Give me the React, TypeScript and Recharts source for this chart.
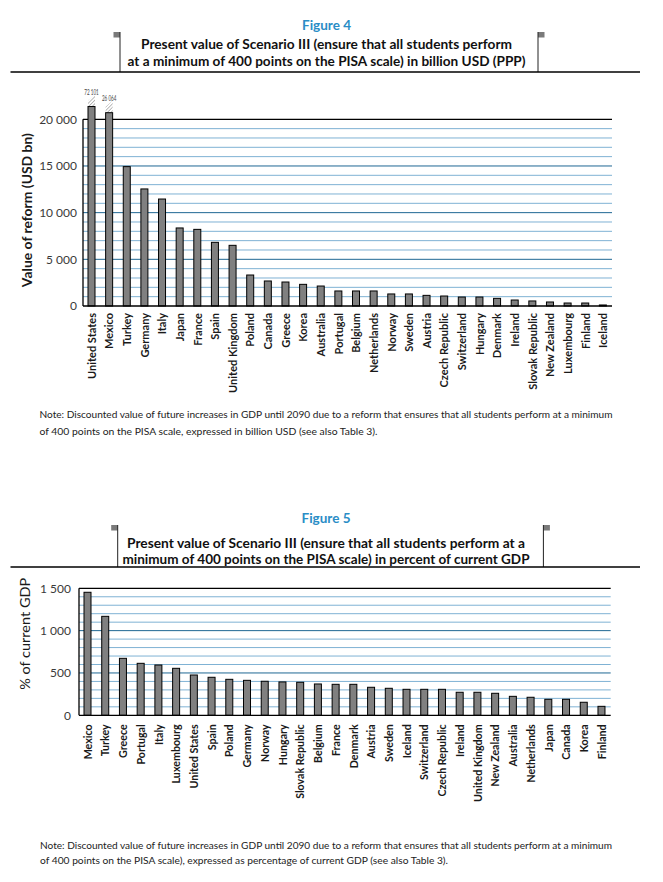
import React from 'react';
import { BarChart, Bar, XAxis, YAxis, ReferenceLine } from 'recharts';

// ---------- Figure 4 data (billion USD, PPP) ----------
const fig4Countries = [
  'United States', 'Mexico', 'Turkey', 'Germany', 'Italy', 'Japan', 'France', 'Spain',
  'United Kingdom', 'Poland', 'Canada', 'Greece', 'Korea', 'Australia', 'Portugal', 'Belgium',
  'Netherlands', 'Norway', 'Sweden', 'Austria', 'Czech Republic', 'Switzerland', 'Hungary',
  'Denmark', 'Ireland', 'Slovak Republic', 'New Zealand', 'Luxembourg', 'Finland', 'Iceland',
];
const fig4Values = [
  72101, 26064, 14930, 12540, 11460, 8360, 8210, 6820, 6500, 3320, 2680, 2570, 2320, 2140, 1610,
  1610, 1610, 1290, 1290, 1140, 1070, 960, 960, 820, 640, 540, 430, 320, 320, 110,
];
const fig4Ticks = [0, 5000, 10000, 15000, 20000];
const fig4Max = 20000;
const fig4GridStep = 1000;

// ---------- Figure 5 data (% of current GDP) ----------
const fig5Countries = [
  'Mexico', 'Turkey', 'Greece', 'Portugal', 'Italy', 'Luxembourg', 'United States', 'Spain',
  'Poland', 'Germany', 'Norway', 'Hungary', 'Slovak Republic', 'Belgium', 'France', 'Denmark',
  'Austria', 'Sweden', 'Iceland', 'Switzerland', 'Czech Republic', 'Ireland', 'United Kingdom',
  'New Zealand', 'Australia', 'Netherlands', 'Japan', 'Canada', 'Korea', 'Finland',
];
const fig5Values = [
  1453, 1169, 673, 614, 594, 555, 476, 449, 425, 413, 402, 394, 390, 370, 366, 366, 331, 319,
  307, 307, 307, 272, 272, 260, 224, 213, 189, 189, 154, 106,
];
const fig5Ticks = [0, 500, 1000, 1500];
const fig5Max = 1500;
const fig5GridStep = 100;

const fig4Data = fig4Countries.map((c, i) => ({ country: c, value: fig4Values[i] }));
const fig5Data = fig5Countries.map((c, i) => ({ country: c, value: fig5Values[i] }));

// ---------- styles ----------
const BAR_FILL = '#808080';
const MINOR = '#7fb2d4';
const MAJOR = '#1f6793';
const FONT = 'Lato, "Open Sans", sans-serif';

const fmt = (v: number) => String(v).replace(/\B(?=(\d{3})+(?!\d))/g, ' ');

const gridValues = (max: number, step: number) => {
  const out: number[] = [];
  for (let v = step; v < max; v += step) out.push(v);
  return out;
};

const makeCountryTick = (gap: number, size: number) => (props: any) => {
  const { x, y, payload } = props;
  const y0 = y + gap;
  return (
    <text
      x={x}
      y={y0}
      dy={size * 0.36}
      textAnchor="end"
      transform={`rotate(-90 ${x} ${y0})`}
      fontFamily={FONT}
      fontWeight={700}
      fontSize={size}
      fill="#1a1a1a"
    >
      {payload.value}
    </text>
  );
};

const makeValueTick = (size: number) => (props: any) => {
  const { x, y, payload } = props;
  return (
    <text x={x} y={y} dy="0.36em" textAnchor="end" fontFamily={FONT} fontSize={size} fill="#3a3a3a">
      {fmt(payload.value)}
    </text>
  );
};

const makeAxisTitle = (text: string, cx: number, shift: number, size: number, weight: number, len: number) =>
  (props: any) => {
    const vb = props.viewBox || { x: 0, y: 0, width: 0, height: 0 };
    const cy = vb.y + vb.height / 2 + shift;
    return (
      <text
        x={cx}
        y={cy}
        dy={size * 0.36}
        textAnchor="middle"
        transform={`rotate(-90 ${cx} ${cy})`}
        fontFamily={FONT}
        fontWeight={weight}
        fontSize={size}
        fill="#1a1a1a"
        textLength={len}
        lengthAdjust="spacingAndGlyphs"
      >
        {text}
      </text>
    );
  };

// Bar whose value exceeds the axis maximum is drawn with a hatched break and its real value.
const BreakBar = (props: any) => {
  const { x, y, width, height, payload, index } = props;
  if (!(payload && payload.value > fig4Max)) {
    return <rect x={x} y={y} width={width} height={height} fill={BAR_FILL} stroke="#000" strokeWidth={1} />;
  }
  // the further the value overshoots the axis, the longer the stub above it
  const ext = 5 + 4.2 * Math.log2(payload.value / fig4Max);
  const hatchH = 9;
  const top = y - ext;
  const id = `hatch-${index}`;
  return (
    <g>
      <defs>
        <pattern id={id} patternUnits="userSpaceOnUse" width={2.5} height={2.5} patternTransform="rotate(45)">
          <line x1={0} y1={0} x2={0} y2={2.5} stroke="#7a7a7a" strokeWidth={1} />
        </pattern>
      </defs>
      <polygon
        points={`${x},${top} ${x + width},${top} ${x + width},${top - hatchH - 3} ${x},${top - hatchH + 3}`}
        fill={`url(#${id})`}
        stroke="none"
      />
      <rect x={x} y={top} width={width} height={height + ext} fill={BAR_FILL} stroke="#000" strokeWidth={1} />
      <text
        x={x + width / 2}
        y={top - hatchH - 3}
        textAnchor="middle"
        fontFamily={FONT}
        fontSize={7}
        fill="#444"
        textLength={14.5}
        lengthAdjust="spacingAndGlyphs"
      >
        {fmt(payload.value)}
      </text>
    </g>
  );
};

const PlainBar = (props: any) => {
  const { x, y, width, height } = props;
  return <rect x={x} y={y} width={width} height={height} fill={BAR_FILL} stroke="#000" strokeWidth={1} />;
};

const Chart1 = () => (
  <BarChart
    width={663}
    height={400}
    data={fig4Data}
    margin={{ top: 119.3, right: 51, left: 0, bottom: 0 }}
  >
    {gridValues(fig4Max, fig4GridStep).map((v) => (
      <ReferenceLine key={v} y={v} stroke={v % 5000 === 0 ? MAJOR : MINOR} strokeWidth={1} zIndex={-10} />
    ))}
    <ReferenceLine y={fig4Max} stroke="#000" strokeWidth={1.3} zIndex={-10} />
    <XAxis
      dataKey="country"
      interval={0}
      tickLine={false}
      tickSize={0}
      tickMargin={0}
      height={94}
      axisLine={{ stroke: '#000', strokeWidth: 1.3 }}
      tick={makeCountryTick(7, 11)}
    />
    <YAxis
      width={83}
      domain={[0, fig4Max]}
      ticks={fig4Ticks}
      tickLine={false}
      tickSize={0}
      tickMargin={6}
      axisLine={{ stroke: '#000', strokeWidth: 1.3 }}
      tick={makeValueTick(12)}
      label={{ content: makeAxisTitle('Value of reform (USD bn)', 27, -2.5, 13.5, 700, 154) }}
    />
    <Bar
      dataKey={(d: any) => Math.min(d.value, fig4Max)}
      barSize={7}
      shape={BreakBar}
      isAnimationActive={false}
    />
  </BarChart>
);

const Chart2 = () => (
  <BarChart
    width={663}
    height={380}
    data={fig5Data}
    margin={{ top: 148.3, right: 52.3, left: 0, bottom: 0 }}
  >
    {gridValues(fig5Max, fig5GridStep).map((v) => (
      <ReferenceLine key={v} y={v} stroke={v % 500 === 0 ? MAJOR : MINOR} strokeWidth={1} zIndex={-10} />
    ))}
    <ReferenceLine y={fig5Max} stroke="#000" strokeWidth={1.3} zIndex={-10} />
    <XAxis
      dataKey="country"
      interval={0}
      tickLine={false}
      tickSize={0}
      tickMargin={0}
      height={104.7}
      axisLine={{ stroke: '#000', strokeWidth: 1.3 }}
      tick={makeCountryTick(9, 10.7)}
    />
    <YAxis
      width={79}
      domain={[0, fig5Max]}
      ticks={fig5Ticks}
      tickLine={false}
      tickSize={0}
      tickMargin={8}
      axisLine={{ stroke: '#000', strokeWidth: 1.3 }}
      tick={makeValueTick(12)}
      label={{ content: makeAxisTitle('% of current GDP', 25, -18, 14, 400, 112) }}
    />
    <Bar dataKey="value" barSize={7} shape={PlainBar} isAnimationActive={false} />
  </BarChart>
);

const TitleBlock = (p: {
  fig: string; figY: number; l1: string; l1Y: number; l1W: number; l2: string; l2Y: number; l2W: number;
  boxL: number; boxR: number; boxTop: number; ruleY: number; cx: number; size: number;
}) => (
  <g>
    <text x={p.cx} y={p.figY} textAnchor="middle" fontFamily={FONT} fontSize={13.5} fontWeight={700}
      fill="#2a8dc6" textLength={49} lengthAdjust="spacingAndGlyphs">{p.fig}</text>
    <rect x={p.boxL - 6.5} y={p.boxTop} width={6.5} height={5.5} fill="#7a7a7a" />
    <rect x={p.boxR} y={p.boxTop} width={6.5} height={5.5} fill="#7a7a7a" />
    <line x1={p.boxL} y1={p.boxTop} x2={p.boxL} y2={p.ruleY} stroke="#222" strokeWidth={1} />
    <line x1={p.boxR} y1={p.boxTop} x2={p.boxR} y2={p.ruleY} stroke="#222" strokeWidth={1} />
    <line x1={10.5} y1={p.ruleY} x2={640} y2={p.ruleY} stroke="#000" strokeWidth={1.3} />
    <text x={p.cx} y={p.l1Y} textAnchor="middle" fontFamily={FONT} fontSize={p.size} fontWeight={700}
      fill="#111" textLength={p.l1W} lengthAdjust="spacingAndGlyphs">{p.l1}</text>
    <text x={p.cx} y={p.l2Y} textAnchor="middle" fontFamily={FONT} fontSize={p.size} fontWeight={700}
      fill="#111" textLength={p.l2W} lengthAdjust="spacingAndGlyphs">{p.l2}</text>
  </g>
);

const Note = (p: { x: number; y1: number; y2: number; l1: string; w1: number; l2: string; w2: number }) => (
  <g fontFamily={FONT} fontSize={10.3} fill="#222">
    <text x={p.x} y={p.y1} textLength={p.w1} lengthAdjust="spacingAndGlyphs">{p.l1}</text>
    <text x={p.x} y={p.y2} textLength={p.w2} lengthAdjust="spacingAndGlyphs">{p.l2}</text>
  </g>
);

export default function App() {
  return (
    <div style={{ position: 'absolute', left: 0, top: 0, width: 663, height: 882, background: '#fff' }}>
      <div style={{ position: 'absolute', left: 0, top: 0 }}>
        <Chart1 />
      </div>
      <div style={{ position: 'absolute', left: 0, top: 440 }}>
        <Chart2 />
      </div>
      <svg width={663} height={882} style={{ position: 'absolute', left: 0, top: 0, pointerEvents: 'none' }}>
        <TitleBlock
          fig="Figure 4" figY={29.5} cx={326.5} size={13}
          l1="Present value of Scenario III (ensure that all students perform" l1Y={48.5} l1W={371}
          l2="at a minimum of 400 points on the PISA scale) in billion USD (PPP)" l2Y={65.5} l2W={398}
          boxL={120} boxR={538} boxTop={32} ruleY={72}
        />
        <Note
          x={39.5} y1={418} y2={435}
          l1="Note: Discounted value of future increases in GDP until 2090 due to a reform that ensures that all students perform at a minimum"
          w1={573}
          l2="of 400 points on the PISA scale, expressed in billion USD (see also Table 3)."
          w2={338}
        />
        <TitleBlock
          fig="Figure 5" figY={522.5} cx={326} size={12.3}
          l1="Present value of Scenario III (ensure that all students perform at a" l1Y={548} l1W={398}
          l2="minimum of 400 points on the PISA scale) in percent of current GDP" l2Y={563.5} l2W={407}
          boxL={117.7} boxR={543.4} boxTop={525} ruleY={567}
        />
        <Note
          x={40} y1={849} y2={864}
          l1="Note: Discounted value of future increases in GDP until 2090 due to a reform that ensures that all students perform at a minimum"
          w1={572}
          l2="of 400 points on the PISA scale), expressed as percentage of current GDP (see also Table 3)."
          w2={408}
        />
      </svg>
    </div>
  );
}
